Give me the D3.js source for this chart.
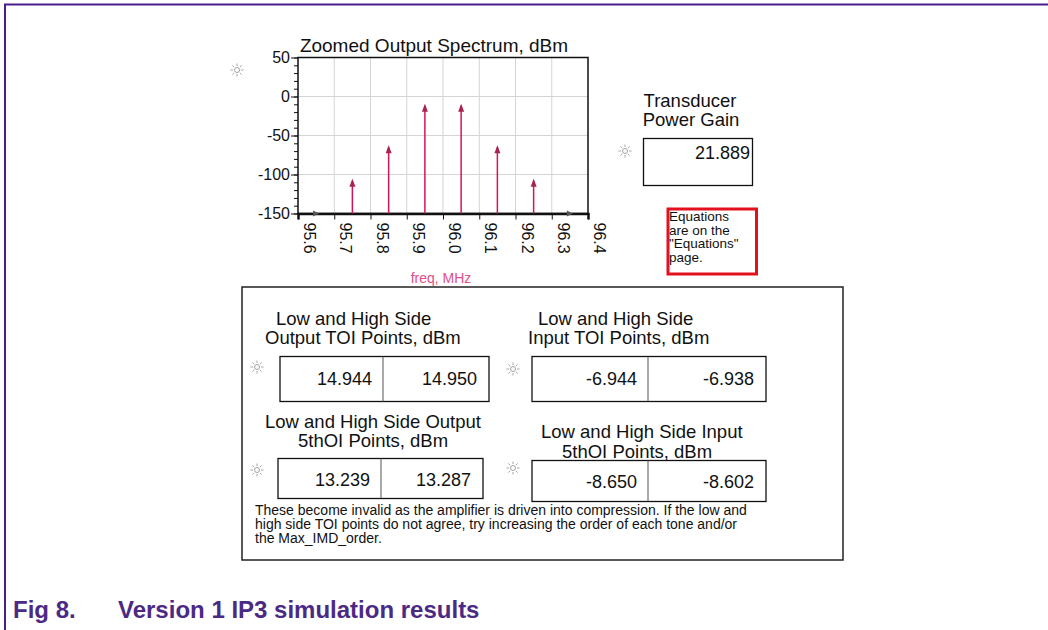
<!DOCTYPE html>
<html>
<head>
<meta charset="utf-8">
<script src="https://d3js.org/d3.v7.min.js"></script>
<style>
  body { margin: 0; background: #fff; }
  svg text { font-family: "Liberation Sans", Arial, sans-serif; }
</style>
</head>
<body>
<div id="chart"></div>
<script>
// spectrum tones (MHz) and their levels (dBm)
var freqs = [95.65, 95.75, 95.85, 95.95, 96.05, 96.15, 96.25, 96.35];
var levels = [-150, -108, -65, -12, -12, -65, -108, -150];
var yTicks = [50, 0, -50, -100, -150];
var xTicks = [95.6, 95.7, 95.8, 95.9, 96.0, 96.1, 96.2, 96.3, 96.4];

var gainValue = "21.889";
var toiOut = ["14.944", "14.950"];
var toiIn = ["-6.944", "-6.938"];
var fifthOut = ["13.239", "13.287"];
var fifthIn = ["-8.650", "-8.602"];

var width = 1048, height = 630;
var svg = d3.select("#chart").append("svg")
    .attr("width", width).attr("height", height);

// figure frame
svg.append("path")
    .attr("d", "M5,630 L5,4.5 L1048,4.5")
    .attr("fill", "none").attr("stroke", "#4a1d8c").attr("stroke-width", 2);

var pLeft = 298, pRight = 588, pTop = 57.5, pBottom = 213.5;
var x = d3.scaleLinear().domain([95.6, 96.4]).range([pLeft, pRight]);
var y = d3.scaleLinear().domain([-150, 50]).range([pBottom, pTop]);

var plot = svg.append("g");

// grid
plot.selectAll(".vg").data(xTicks.slice(1, -1)).enter().append("line")
    .attr("x1", function(d){ return x(d); }).attr("x2", function(d){ return x(d); })
    .attr("y1", pTop).attr("y2", pBottom)
    .attr("stroke", "#d4d4d4").attr("stroke-width", 1);
plot.selectAll(".hg").data(yTicks.slice(1, -1)).enter().append("line")
    .attr("x1", pLeft).attr("x2", pRight)
    .attr("y1", function(d){ return y(d); }).attr("y2", function(d){ return y(d); })
    .attr("stroke", "#d4d4d4").attr("stroke-width", 1);

// frame of plot
plot.append("rect").attr("x", pLeft).attr("y", pTop)
    .attr("width", pRight - pLeft).attr("height", pBottom - pTop)
    .attr("fill", "none").attr("stroke", "#111").attr("stroke-width", 1.5);

// y axis: minor ticks then major
var yMinor = d3.range(-150, 51, 10);
plot.append("g").attr("transform", "translate(" + pLeft + ",0)")
    .call(d3.axisLeft(y).tickValues(yMinor).tickSize(4).tickFormat(""))
    .call(function(g){ g.select(".domain").remove(); g.selectAll("line").attr("stroke", "#111"); });
var yAxis = plot.append("g").attr("transform", "translate(" + pLeft + ",0)")
    .call(d3.axisLeft(y).tickValues(yTicks).tickSize(7).tickPadding(1)
      .tickFormat(function(d){ return String(d); }));
yAxis.select(".domain").remove();
yAxis.selectAll("line").attr("stroke", "#111");
yAxis.selectAll("text").attr("font-size", 16).attr("fill", "#111")
    .attr("font-family", "Liberation Sans, Arial, sans-serif");

// x axis
var xAxis = plot.append("g").attr("transform", "translate(0," + pBottom + ")")
    .call(d3.axisBottom(x).tickValues(xTicks).tickSize(6).tickFormat(d3.format(".1f")));
xAxis.select(".domain").attr("stroke", "#111").attr("stroke-width", 2.5);
xAxis.selectAll("line").attr("stroke", "#111");
xAxis.selectAll("text")
    .attr("font-size", 16).attr("fill", "#111")
    .attr("font-family", "Liberation Sans, Arial, sans-serif")
    .attr("text-anchor", "start")
    .attr("transform", "rotate(90)")
    .attr("x", 9).attr("y", 0).attr("dy", "-0.35em");

// spectral lines with arrow heads
var lineColor = "#d4145a";
plot.selectAll(".tone").data(freqs).enter().append("line")
    .attr("x1", function(d){ return x(d); }).attr("x2", function(d){ return x(d); })
    .attr("y1", y(-150))
    .attr("y2", function(d, i){ return y(levels[i]); })
    .attr("stroke", lineColor).attr("stroke-width", 1.5);
plot.selectAll(".head").data(freqs).enter().append("path")
    .attr("d", function(d, i){
      var cx = x(d), cy = y(levels[i]);
      if (levels[i] <= -150) return "M" + (cx - 3) + "," + (cy - 3) + "L" + (cx + 3) + "," + cy + "L" + (cx - 3) + "," + (cy + 3) + "Z";
      return "M" + cx + "," + (cy - 2) + "L" + (cx - 3) + "," + (cy + 6) + "L" + (cx + 3) + "," + (cy + 6) + "Z";
    })
    .attr("fill", function(d, i){ return levels[i] <= -150 ? "#555" : "#a8244f"; });

// titles
svg.append("text").attr("x", 434).attr("y", 52).attr("text-anchor", "middle")
    .attr("font-size", 19).attr("fill", "#111").text("Zoomed Output Spectrum, dBm");
svg.append("text").attr("x", 441).attr("y", 283).attr("text-anchor", "middle")
    .attr("font-size", 14).attr("fill", "#e0508a").text("freq, MHz");

// little sun icons
function sun(cx, cy) {
  var g = svg.append("g").attr("transform", "translate(" + cx + "," + cy + ")")
      .attr("stroke", "#9a9a9a").attr("fill", "none").attr("stroke-width", 0.9);
  g.append("circle").attr("r", 2.5);
  d3.range(8).forEach(function(k){
    var a = k * Math.PI / 4;
    g.append("line").attr("x1", Math.cos(a) * 4).attr("y1", Math.sin(a) * 4)
      .attr("x2", Math.cos(a) * 6.5).attr("y2", Math.sin(a) * 6.5);
  });
}
sun(237, 70);

// transducer gain
svg.append("text").attr("x", 690).attr("y", 107).attr("text-anchor", "middle")
    .attr("font-size", 18.5).attr("fill", "#111").text("Transducer");
svg.append("text").attr("x", 691).attr("y", 126).attr("text-anchor", "middle")
    .attr("font-size", 18.5).attr("fill", "#111").text("Power Gain");
sun(625, 151);
svg.append("rect").attr("x", 643.5).attr("y", 138.5).attr("width", 109).attr("height", 47)
    .attr("fill", "none").attr("stroke", "#111").attr("stroke-width", 1.3);
svg.append("text").attr("x", 750).attr("y", 159).attr("text-anchor", "end")
    .attr("font-size", 18).attr("fill", "#111").text(gainValue);

// red note
svg.append("rect").attr("x", 668).attr("y", 209).attr("width", 88.5).attr("height", 65)
    .attr("fill", "none").attr("stroke", "#e3101e").attr("stroke-width", 3);
["Equations", "are on the", "\"Equations\"", "page."].forEach(function(t, i){
  svg.append("text").attr("x", 669).attr("y", 221 + i * 13.6)
    .attr("font-size", 13.5).attr("fill", "#111").text(t);
});

// bottom panel
svg.append("rect").attr("x", 242).attr("y", 287).attr("width", 601).attr("height", 273)
    .attr("fill", "none").attr("stroke", "#222").attr("stroke-width", 1.5);

function label(x0, yb, t) {
  svg.append("text").attr("x", x0).attr("y", yb).attr("font-size", 18.5)
    .attr("fill", "#111").text(t);
}
function valueBox(x0, x1, xm, y0, y1, vals, yb) {
  svg.append("rect").attr("x", x0).attr("y", y0).attr("width", x1 - x0).attr("height", y1 - y0)
    .attr("fill", "none").attr("stroke", "#111").attr("stroke-width", 1.3);
  svg.append("line").attr("x1", xm).attr("x2", xm).attr("y1", y0).attr("y2", y1)
    .attr("stroke", "#555").attr("stroke-width", 1);
  svg.append("text").attr("x", xm - 11).attr("y", yb).attr("text-anchor", "end")
    .attr("font-size", 18).attr("fill", "#111").text(vals[0]);
  svg.append("text").attr("x", x1 - 12).attr("y", yb).attr("text-anchor", "end")
    .attr("font-size", 18).attr("fill", "#111").text(vals[1]);
}

label(276, 325, "Low and High Side");
label(265, 344, "Output TOI Points, dBm");
label(538, 325, "Low and High Side");
label(528, 344, "Input TOI Points, dBm");
sun(257, 367);
sun(513, 369);
valueBox(280, 489, 383, 356.5, 401.5, toiOut, 385);
valueBox(532, 766, 648, 356.5, 401.5, toiIn, 385);

label(265, 428, "Low and High Side Output");
label(298, 447, "5thOI Points, dBm");
label(541, 438, "Low and High Side Input");
label(562, 458, "5thOI Points, dBm");
sun(257, 470);
sun(513, 468);
valueBox(278, 483, 381, 458.5, 498.5, fifthOut, 486);
valueBox(532, 766, 648, 460.5, 501.5, fifthIn, 488);

["These become invalid as the amplifier is driven into compression.  If the low and",
 "high side TOI points do not agree, try increasing the order of each tone and/or",
 "the Max_IMD_order."].forEach(function(t, i){
  svg.append("text").attr("x", 255).attr("y", 515 + i * 14)
    .attr("font-size", 14).attr("fill", "#111").text(t);
});

// caption
svg.append("text").attr("x", 13).attr("y", 618).attr("font-size", 24)
    .attr("font-weight", "bold").attr("fill", "#4b2a85").text("Fig 8.");
svg.append("text").attr("x", 118).attr("y", 618).attr("font-size", 24)
    .attr("font-weight", "bold").attr("fill", "#4b2a85").text("Version 1 IP3 simulation results");
</script>
</body>
</html>
